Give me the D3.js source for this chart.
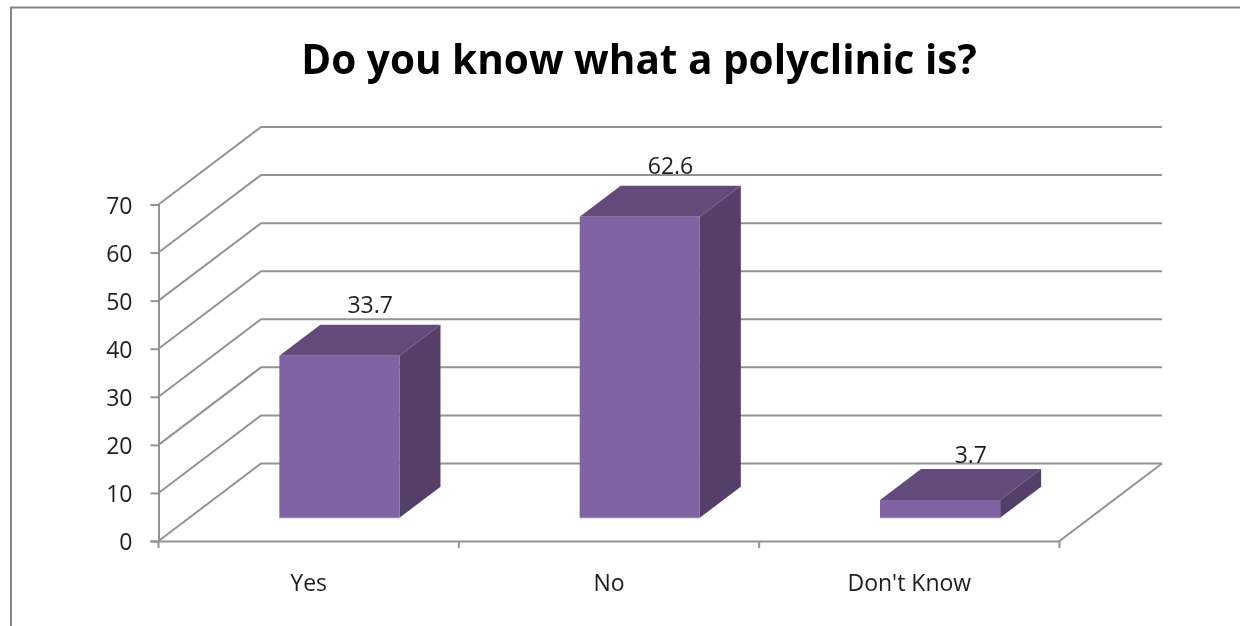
<!DOCTYPE html>
<html>
<head>
<meta charset="utf-8">
<script src="https://cdn.jsdelivr.net/npm/d3@7"></script>
<style>
html, body { margin: 0; padding: 0; background: #fff; overflow: hidden; }
svg { display: block; filter: blur(0.45px); }
text { font-family: "Open Sans", sans-serif; fill: #1e1e1e; }
</style>
</head>
<body>
<svg></svg>
<script>
const width = 1240;
const height = 626;

// chart data
const categories = ["Yes", "No", "Don't Know"];
const values = [33.7, 62.6, 3.7];
const yTicks = [0, 10, 20, 30, 40, 50, 60, 70];
const chartTitle = "Do you know what a polyclinic is?";

const colors = {
    front: "#8063a2",
    top: "#624b7a",
    side: "#533f68",
    edge: "#9a83b6",
    grid: "#939393",
    frame: "#858585"
};

const svg = d3.select("svg")
    .attr("width", width)
    .attr("height", height);

const y = d3.scaleLinear().domain([0, 70]).range([541, 204.5]);
const x = d3.scaleBand().domain(categories).range([158.5, 1059.5]);

// the floor runs back and up from the front edge
const floorDx = 102.5;
const floorDy = -77.5;
const barStart = 0.3;   // where the bar sits on the floor depth
const barDepth = 0.4;
const barWidth = x.bandwidth() * 0.4;

// outer chart frame, cut off by the screenshot
svg.append("path")
    .attr("d", `M11,${height + 5}V7.5H${width + 5}`)
    .attr("fill", "none")
    .attr("stroke", colors.frame)
    .attr("stroke-width", 2);

svg.append("text")
    .attr("x", 639)
    .attr("y", 74)
    .attr("text-anchor", "middle")
    .attr("font-size", 40.5)
    .attr("font-weight", 700)
    .style("fill", "#000")
    .text(chartTitle);

// gridlines on side wall and back wall
const grid = svg.append("g")
    .attr("fill", "none")
    .attr("stroke", colors.grid)
    .attr("stroke-width", 2);

grid.selectAll("path")
    .data(yTicks)
    .enter().append("path")
    .attr("d", d => {
        const x0 = x.range()[0];
        return `M${x0},${y(d)}L${x0 + floorDx},${y(d) + floorDy}H${x.range()[1] + floorDx}`;
    });

// right edge of the floor
grid.append("path")
    .attr("d", `M${x.range()[1]},${y(0)}L${x.range()[1] + floorDx},${y(0) + floorDy}`);

// value axis
const yAxis = svg.append("g")
    .attr("transform", `translate(${x.range()[0]},0)`)
    .call(d3.axisLeft(y).tickValues(yTicks).tickSize(8).tickPadding(18).tickFormat(d3.format("d")));
yAxis.selectAll("text").attr("font-size", 23).attr("font-family", null).attr("dy", "0.38em");

// category axis, ticks sit between the categories
const xAxis = svg.append("g")
    .attr("transform", `translate(0,${y(0)})`)
    .call(d3.axisBottom(x).tickSize(0).tickPadding(34));
xAxis.selectAll("text").attr("font-size", 23).attr("font-family", null);

xAxis.selectAll(".edge")
    .data(d3.range(categories.length + 1))
    .enter().append("line")
    .attr("class", "edge")
    .attr("x1", d => x.range()[0] + d * x.step())
    .attr("x2", d => x.range()[0] + d * x.step())
    .attr("y1", 0)
    .attr("y2", 7);

svg.selectAll(".domain, .tick line, .edge")
    .attr("stroke", colors.grid)
    .attr("stroke-width", 2);

// 3D bars
const bars = svg.selectAll(".bar")
    .data(categories.map((c, i) => ({ category: c, value: values[i] })))
    .enter().append("g")
    .attr("class", "bar");

const left = d => x(d.category) + (x.bandwidth() - barWidth) / 2 + floorDx * barStart;
const base = y(0) + floorDy * barStart;
const topY = d => base - (y(0) - y(d.value));
const depthX = floorDx * barDepth;
const depthY = floorDy * barDepth;

bars.append("path")
    .attr("fill", colors.top)
    .attr("d", d => `M${left(d)},${topY(d)}l${depthX},${depthY}h${barWidth}l${-depthX},${-depthY}Z`);

bars.append("path")
    .attr("fill", colors.side)
    .attr("d", d => `M${left(d) + barWidth},${topY(d)}l${depthX},${depthY}V${base + depthY}l${-depthX},${-depthY}Z`);

bars.append("rect")
    .attr("fill", colors.front)
    .attr("x", left)
    .attr("y", topY)
    .attr("width", barWidth)
    .attr("height", d => base - topY(d));

// bottom edge highlight on the front face
bars.append("line")
    .attr("stroke", colors.edge)
    .attr("stroke-width", 1)
    .attr("x1", left)
    .attr("x2", d => left(d) + barWidth)
    .attr("y1", base)
    .attr("y2", base);

// the small bar's label sits closer to its bar
const labelRaise = d => d.value < 10 ? 6 : 12;

bars.append("text")
    .attr("x", d => left(d) + barWidth / 2 + floorDx * barStart)
    .attr("y", d => topY(d) + depthY - labelRaise(d))
    .attr("text-anchor", "middle")
    .attr("font-size", 23)
    .text(d => d.value);
</script>
</body>
</html>
